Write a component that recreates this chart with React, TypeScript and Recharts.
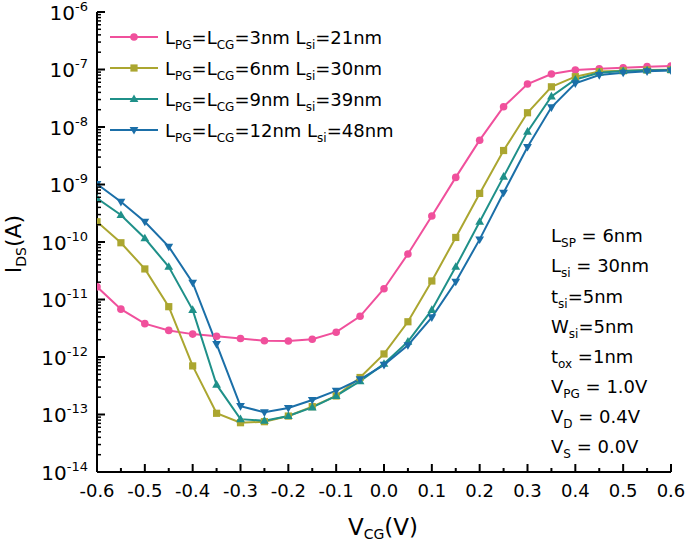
import React from 'react';
import { LineChart, Line, XAxis, YAxis } from 'recharts';

const vcg = [-0.6, -0.55, -0.5, -0.45, -0.4, -0.35, -0.3, -0.25, -0.2, -0.15, -0.1, -0.05, 0, 0.05, 0.1, 0.15, 0.2, 0.25, 0.3, 0.35, 0.4, 0.45, 0.5, 0.55, 0.6];

const iL3 = [1.66e-11, 6.8e-12, 3.8e-12, 2.9e-12, 2.5e-12, 2.3e-12, 2.1e-12, 1.92e-12, 1.9e-12, 2.03e-12, 2.7e-12, 5.1e-12, 1.54e-11, 6.2e-11, 2.83e-10, 1.33e-9, 5.9e-9, 2.25e-8, 5.6e-8, 8.35e-8, 9.8e-8, 1.03e-7, 1.07e-7, 1.12e-7, 1.15e-7];
const iL6 = [2.25e-10, 9.7e-11, 3.4e-11, 7.5e-12, 7e-13, 1.05e-13, 7.2e-14, 7.5e-14, 9.4e-14, 1.37e-13, 2.1e-13, 4.4e-13, 1.13e-12, 4.1e-12, 2.1e-11, 1.2e-10, 7.0e-10, 3.9e-9, 1.77e-8, 5.0e-8, 7.5e-8, 9.2e-8, 9.5e-8, 9.8e-8, 9.9e-8];
const iL9 = [5.75e-10, 2.95e-10, 1.16e-10, 3.7e-11, 6.6e-12, 3.3e-13, 8.3e-14, 7.8e-14, 9.4e-14, 1.33e-13, 2.1e-13, 3.8e-13, 7.6e-13, 1.85e-12, 6.6e-12, 3.7e-11, 2.25e-10, 1.37e-9, 8.3e-9, 3.4e-8, 6.7e-8, 8.8e-8, 9.4e-8, 9.7e-8, 9.8e-8];
const iL12 = [1.02e-9, 5.0e-10, 2.25e-10, 8.3e-11, 1.96e-11, 1.68e-12, 1.4e-13, 1.09e-13, 1.3e-13, 1.79e-13, 2.6e-13, 4.1e-13, 7.3e-13, 1.6e-12, 4.9e-12, 2.04e-11, 1.11e-10, 7.2e-10, 4.5e-9, 2.2e-8, 5.75e-8, 8.0e-8, 8.8e-8, 9.3e-8, 9.6e-8];

const xTicks = [-0.6, -0.55, -0.5, -0.45, -0.4, -0.35, -0.3, -0.25, -0.2, -0.15, -0.1, -0.05, 0, 0.05, 0.1, 0.15, 0.2, 0.25, 0.3, 0.35, 0.4, 0.45, 0.5, 0.55, 0.6];
const yDecadeExps = [-14, -13, -12, -11, -10, -9, -8, -7, -6];
const yMinorMantissas = [2, 3, 4, 5, 6, 7, 8, 9];

const legendGate = ['3nm', '6nm', '9nm', '12nm'];
const legendLsi = ['21nm', '30nm', '39nm', '48nm'];
const seriesKeys = ['a', 'b', 'c', 'd'];
const seriesColors = ['#F0509C', '#ABA630', '#1F9089', '#1B6FA8'];
const seriesShapes = ['circle', 'square', 'up', 'down'];

const annotations: [string, string, string][] = [
  ['L', 'SP', ' = 6nm'],
  ['L', 'si', ' = 30nm'],
  ['t', 'si', '=5nm'],
  ['W', 'si', '=5nm'],
  ['t', 'ox', ' =1nm'],
  ['V', 'PG', ' = 1.0V'],
  ['V', 'D', ' = 0.4V'],
  ['V', 'S', ' = 0.0V'],
];

const FONT = '"DejaVu Sans", sans-serif';

const data = vcg.map((v, i) => ({ v, a: iL3[i], b: iL6[i], c: iL9[i], d: iL12[i] }));

const yTicks: number[] = [];
yDecadeExps.forEach((e, i) => {
  yTicks.push(Math.pow(10, e));
  if (i < yDecadeExps.length - 1) yMinorMantissas.forEach((m) => yTicks.push(m * Math.pow(10, e)));
});

const isMajorX = (v: number) => Math.abs(Math.round(v * 10) - v * 10) < 1e-6;
const isMajorY = (v: number) => {
  const l = Math.log10(v);
  return Math.abs(l - Math.round(l)) < 1e-6;
};

const BottomTick = (props: any) => {
  const { x, y, payload } = props;
  const v = payload.value;
  const major = isMajorX(v);
  return (
    <g>
      <line x1={x} x2={x} y1={y} y2={y - (major ? 8 : 4)} stroke="#000" strokeWidth={2} />
      {major && (
        <text x={x} y={y + 25} textAnchor="middle" fontSize={18} fontFamily={FONT} fill="#000">
          {v.toFixed(1)}
        </text>
      )}
    </g>
  );
};

const TopTick = (props: any) => {
  const { x, y, payload } = props;
  const major = isMajorX(payload.value);
  return <line x1={x} x2={x} y1={y} y2={y + (major ? 8 : 4)} stroke="#000" strokeWidth={2} />;
};

const LeftTick = (props: any) => {
  const { x, y, payload } = props;
  const v = payload.value;
  const major = isMajorY(v);
  const e = Math.round(Math.log10(v));
  return (
    <g>
      <line x1={x} x2={x + (major ? 8 : 4)} y1={y} y2={y} stroke="#000" strokeWidth={major ? 2 : 1.5} />
      {major && (
        <text x={x - 9} y={y + 7.5} textAnchor="end" fontSize={20} fontFamily={FONT} fill="#000">
          <tspan>10</tspan>
          <tspan dy={-9} fontSize={13}>{String(e)}</tspan>
        </text>
      )}
    </g>
  );
};

const RightTick = (props: any) => {
  const { x, y, payload } = props;
  const major = isMajorY(payload.value);
  return <line x1={x} x2={x - (major ? 8 : 4)} y1={y} y2={y} stroke="#000" strokeWidth={major ? 2 : 1.5} />;
};

const Marker = ({ shape, cx, cy, color }: { shape: string; cx: number; cy: number; color: string }) => {
  if (shape === 'circle') return <circle cx={cx} cy={cy} r={3.8} fill={color} />;
  if (shape === 'square') return <rect x={cx - 3.6} y={cy - 3.6} width={7.2} height={7.2} fill={color} />;
  if (shape === 'up')
    return <polygon points={`${cx},${cy - 4.6} ${cx + 4.4},${cy + 3} ${cx - 4.4},${cy + 3}`} fill={color} />;
  return <polygon points={`${cx},${cy + 4.6} ${cx + 4.4},${cy - 3} ${cx - 4.4},${cy - 3}`} fill={color} />;
};

const makeDot = (shape: string, color: string) => (p: any) => {
  const { cx, cy, index } = p;
  if (cx == null || cy == null) return <g key={`n${index}`} />;
  return (
    <g key={`${shape}-${index}`}>
      <Marker shape={shape} cx={cx} cy={cy} color={color} />
    </g>
  );
};

const LegendBlock = () => (
  <g fontFamily={FONT} fill="#000">
    {legendGate.map((g, i) => {
      const y = 37 + 31 * i;
      return (
        <g key={g}>
          <line x1={110} x2={158} y1={y} y2={y} stroke={seriesColors[i]} strokeWidth={2} />
          <Marker shape={seriesShapes[i]} cx={134} cy={y} color={seriesColors[i]} />
          <text x={165} y={y + 6.5} fontSize={18}>
            <tspan>L</tspan>
            <tspan fontSize={12} dy={5}>PG</tspan>
            <tspan dy={-5}>=L</tspan>
            <tspan fontSize={12} dy={5}>CG</tspan>
            <tspan dy={-5}>{`=${g} L`}</tspan>
            <tspan fontSize={12} dy={5}>si</tspan>
            <tspan dy={-5}>{`=${legendLsi[i]}`}</tspan>
          </text>
        </g>
      );
    })}
  </g>
);

const AnnotationBlock = () => (
  <g fontFamily={FONT} fill="#000">
    {annotations.map(([m, s, r], i) => (
      <text key={i} x={551} y={242.3 + 30.1 * i} fontSize={18}>
        <tspan>{m}</tspan>
        <tspan fontSize={12} dy={5}>{s}</tspan>
        <tspan dy={-5}>{r}</tspan>
      </text>
    ))}
  </g>
);

const AxisTitles = () => (
  <g fontFamily={FONT} fill="#000">
    <text x={383} y={535} textAnchor="middle" fontSize={23}>
      <tspan>V</tspan>
      <tspan fontSize={14} dy={4}>CG</tspan>
      <tspan dy={-4}>(V)</tspan>
    </text>
    <text x={244} y={0} transform="translate(21,0) rotate(-90,0,0) translate(-488,0)" textAnchor="middle" fontSize={22}>
      <tspan>I</tspan>
      <tspan fontSize={14} dy={5}>DS</tspan>
      <tspan dy={-5}>(A)</tspan>
    </text>
  </g>
);

export default function App() {
  const axisLine = { stroke: '#000', strokeWidth: 2 };
  return (
    <div style={{ position: 'absolute', left: 0, top: 0, width: 685, height: 543, background: '#fff' }}>
      <LineChart width={685} height={543} data={data} margin={{ top: 12, right: 14, bottom: 0, left: 0 }}>
        <XAxis
          xAxisId="b"
          dataKey="v"
          type="number"
          domain={[-0.6, 0.6]}
          allowDataOverflow
          ticks={xTicks}
          interval={0}
          tick={<BottomTick />}
          tickLine={false}
          tickSize={0}
          tickMargin={0}
          axisLine={axisLine}
          height={71}
        />
        <XAxis
          xAxisId="t"
          orientation="top"
          dataKey="v"
          type="number"
          domain={[-0.6, 0.6]}
          allowDataOverflow
          ticks={xTicks}
          interval={0}
          tick={<TopTick />}
          tickLine={false}
          tickSize={0}
          tickMargin={0}
          axisLine={axisLine}
          height={0}
        />
        <YAxis
          yAxisId="l"
          scale="log"
          type="number"
          domain={[1e-14, 1e-6]}
          allowDataOverflow
          ticks={yTicks}
          interval={0}
          tick={<LeftTick />}
          tickLine={false}
          tickSize={0}
          tickMargin={0}
          axisLine={axisLine}
          width={97}
        />
        <YAxis
          yAxisId="r"
          orientation="right"
          scale="log"
          type="number"
          domain={[1e-14, 1e-6]}
          allowDataOverflow
          ticks={yTicks}
          interval={0}
          tick={<RightTick />}
          tickLine={false}
          tickSize={0}
          tickMargin={0}
          axisLine={axisLine}
          width={0}
        />
        {seriesKeys.map((k, i) => (
          <Line
            key={k}
            xAxisId="b"
            yAxisId="l"
            type="linear"
            dataKey={k}
            stroke={seriesColors[i]}
            strokeWidth={2}
            dot={makeDot(seriesShapes[i], seriesColors[i])}
            activeDot={false}
            isAnimationActive={false}
          />
        ))}
        <LegendBlock />
        <AnnotationBlock />
        <AxisTitles />
      </LineChart>
    </div>
  );
}
